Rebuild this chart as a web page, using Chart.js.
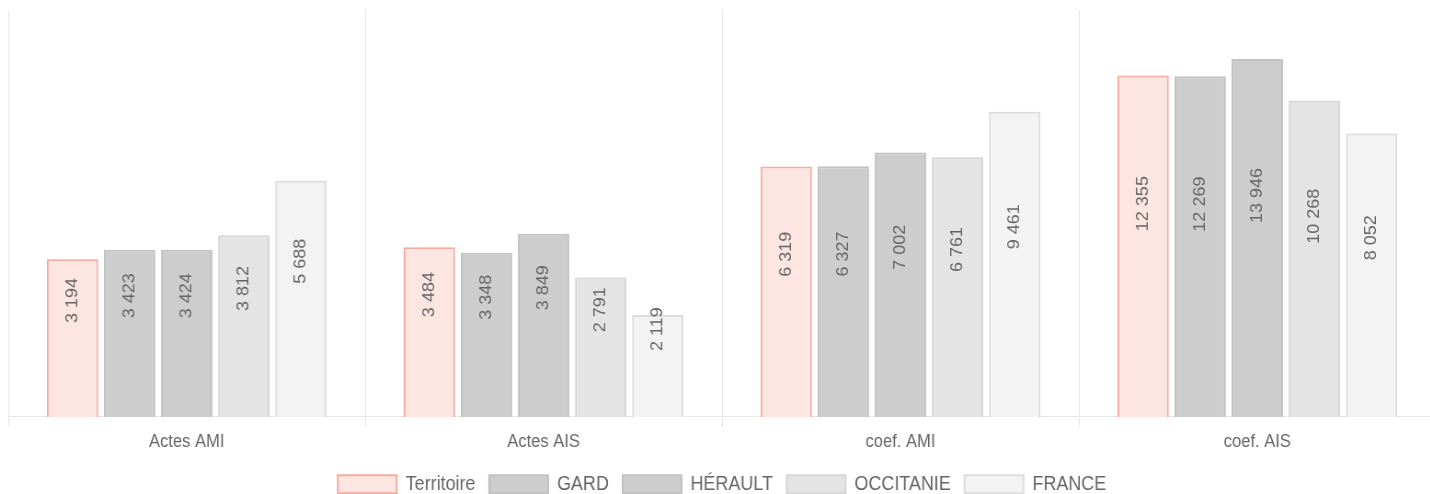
<!DOCTYPE html>
<html>
<head>
<meta charset="utf-8">
<script src="https://cdn.jsdelivr.net/npm/chart.js@4/dist/chart.umd.min.js"></script>
<style>
  html, body { margin: 0; padding: 0; background: #fff; overflow: hidden; }
</style>
</head>
<body>
<!-- drawn wider than shown, then squeezed a bit horizontally like the source picture -->
<canvas id="chart" width="1570" height="494" style="display:block;width:1444px;height:494px"></canvas>
<script>
// === DATA ===
const categories = ["Actes AMI", "Actes AIS", "coef. AMI", "coef. AIS"];
const territoire = [3194, 3484, 6319, 12355];
const gard = [3423, 3348, 6327, 12269];
const herault = [3424, 3849, 7002, 13946];
const occitanie = [3812, 2791, 6761, 10268];
const france = [5688, 2119, 9461, 8052];
const seriesNames = ["Territoire", "GARD", "HÉRAULT", "OCCITANIE", "FRANCE"];

// === COLORS ===
const fills = ["#fde5e2", "#cdcdcd", "#cdcdcd", "#e4e4e4", "#f3f3f3"];
const borders = ["#f6aaa0", "#c2c2c2", "#c2c2c2", "#d6d6d6", "#dcdcdc"];

const fmt = (v) => String(v).replace(/\B(?=(\d{3})+(?!\d))/g, " ");

// rotated value labels inside bars
const barLabels = {
  id: "barLabels",
  afterDatasetsDraw(chart) {
    const c = chart.ctx;
    c.save();
    c.font = "18px 'Liberation Sans', Arial, sans-serif";
    c.fillStyle = "#666";
    c.textAlign = "left";
    c.textBaseline = "middle";
    chart.data.datasets.forEach((ds, i) => {
      chart.getDatasetMeta(i).data.forEach((bar, j) => {
        const mid = (bar.y + bar.base) / 2;
        c.save();
        c.translate(bar.x, mid - 15);
        c.rotate(-Math.PI / 2);
        c.fillText(fmt(ds.data[j]), 0, 0);
        c.restore();
      });
    });
    c.restore();
  },
};

const allData = [territoire, gard, herault, occitanie, france];

const ctx = document.getElementById("chart").getContext("2d");
new Chart(ctx, {
  type: "bar",
  data: {
    labels: categories,
    datasets: allData.map((d, i) => ({
      label: seriesNames[i],
      data: d,
      backgroundColor: fills[i],
      borderColor: borders[i],
      borderWidth: 2,
    })),
  },
  options: {
    responsive: false,
    animation: false,
    devicePixelRatio: 1,
    layout: { padding: { left: 9, right: 9, top: 10, bottom: -10 } },
    plugins: {
      tooltip: { enabled: false },
      legend: {
        position: "bottom",
        labels: {
          boxWidth: 64,
          boxHeight: 18,
          padding: 15,
          color: "#666",
          font: { family: "'Liberation Sans', Arial, sans-serif", size: 19.5 },
        },
      },
    },
    scales: {
      x: {
        grid: { offset: true, color: "#e6e6e6", tickLength: 10 },
        border: { color: "#e6e6e6" },
        ticks: {
          color: "#666",
          padding: 4,
          font: { family: "'Liberation Sans', Arial, sans-serif", size: 18 },
        },
        afterFit: (scale) => { scale.height += 3; },
      },
      y: {
        type: "logarithmic",
        display: false,
        min: 1000,
        max: 20000,
      },
    },
  },
  plugins: [barLabels],
});
</script>
</body>
</html>
